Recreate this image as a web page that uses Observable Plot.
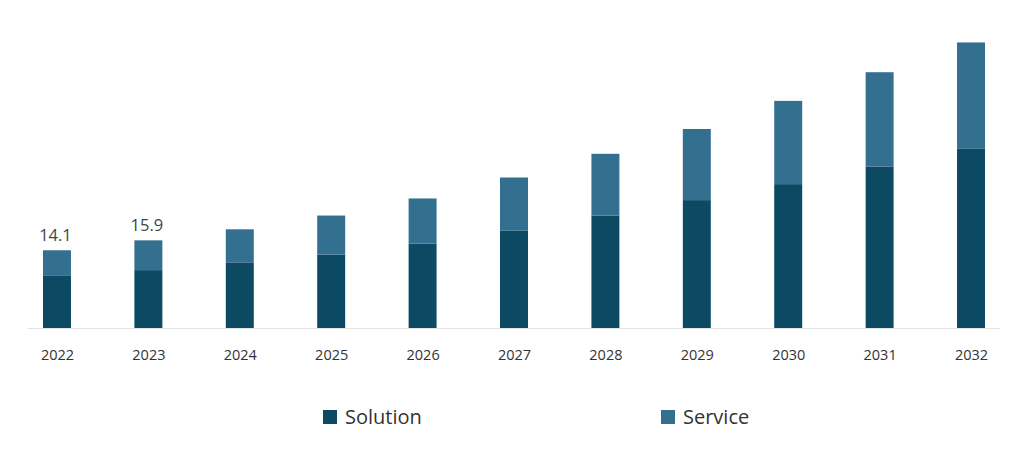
<!DOCTYPE html>
<html>
<head>
<meta charset="utf-8">
<script src="https://cdn.jsdelivr.net/npm/d3@7"></script>
<script src="https://cdn.jsdelivr.net/npm/@observablehq/plot@0.6"></script>
<style>
  body { margin: 0; background: #fff; font-family: "Open Sans", sans-serif; }
  #wrap { width: 1024px; height: 449px; position: relative; overflow: hidden; }
  #legend { position: relative; height: 64px; }
  .item { position: absolute; top: 18px; display: flex; align-items: center; font-size: 20px; color: #333; }
  .sw { width: 14px; height: 14px; margin-right: 8px; }
</style>
</head>
<body>
<div id="wrap">
  <div id="chart"></div>
  <div id="legend"></div>
</div>
<script>
const years = ["2022","2023","2024","2025","2026","2027","2028","2029","2030","2031","2032"];
const solution = [9.45, 10.5, 11.9, 13.3, 15.3, 17.7, 20.4, 23.2, 26.1, 29.3, 32.5];
const service  = [4.65, 5.4, 6.0, 7.1, 8.2, 9.6, 11.2, 12.9, 15.1, 17.1, 19.3];
const segments = ["Solution", "Service"];
const colors = ["#0b4a62", "#336f8f"];
const totalLabels = ["14.1", "15.9", "", "", "", "", "", "", "", "", ""];

const rows = [];
years.forEach((y, i) => {
  rows.push({year: y, segment: "Solution", value: solution[i]});
  rows.push({year: y, segment: "Service", value: service[i]});
});
const totals = years.map((y, i) => ({year: y, total: solution[i] + service[i], label: totalLabels[i]}))
  .filter(d => d.label);

const chart = Plot.plot({
  width: 1024,
  height: 385,
  marginTop: 0,
  marginBottom: 57,
  marginLeft: 28,
  marginRight: 24,
  style: {fontFamily: "Open Sans, sans-serif", fontSize: "14.5px", color: "#333"},
  x: {domain: years, paddingInner: 0.694, paddingOuter: 0.164, round: false, label: null, tickSize: 0, tickPadding: 21},
  y: {domain: [0, 59.5], axis: null},
  color: {domain: segments, range: colors},
  marks: [
    Plot.ruleY([0], {stroke: "#e3e3e3", strokeWidth: 1.2}),
    Plot.barY(rows, Plot.stackY({x: "year", y: "value", fill: "segment", order: segments})),
    Plot.text(totals, {x: "year", y: "total", text: "label", dy: -15, dx: -2, fill: "#444", fontSize: 16.5, lineAnchor: "middle"})
  ]
});
document.getElementById("chart").appendChild(chart);

const legend = document.getElementById("legend");
const lefts = [323, 661];
segments.forEach((s, i) => {
  const it = document.createElement("div");
  it.className = "item";
  it.style.left = lefts[i] + "px";
  const sw = document.createElement("span");
  sw.className = "sw";
  sw.style.background = colors[i];
  const tx = document.createElement("span");
  tx.textContent = s;
  it.appendChild(sw);
  it.appendChild(tx);
  legend.appendChild(it);
});
</script>
</body>
</html>
